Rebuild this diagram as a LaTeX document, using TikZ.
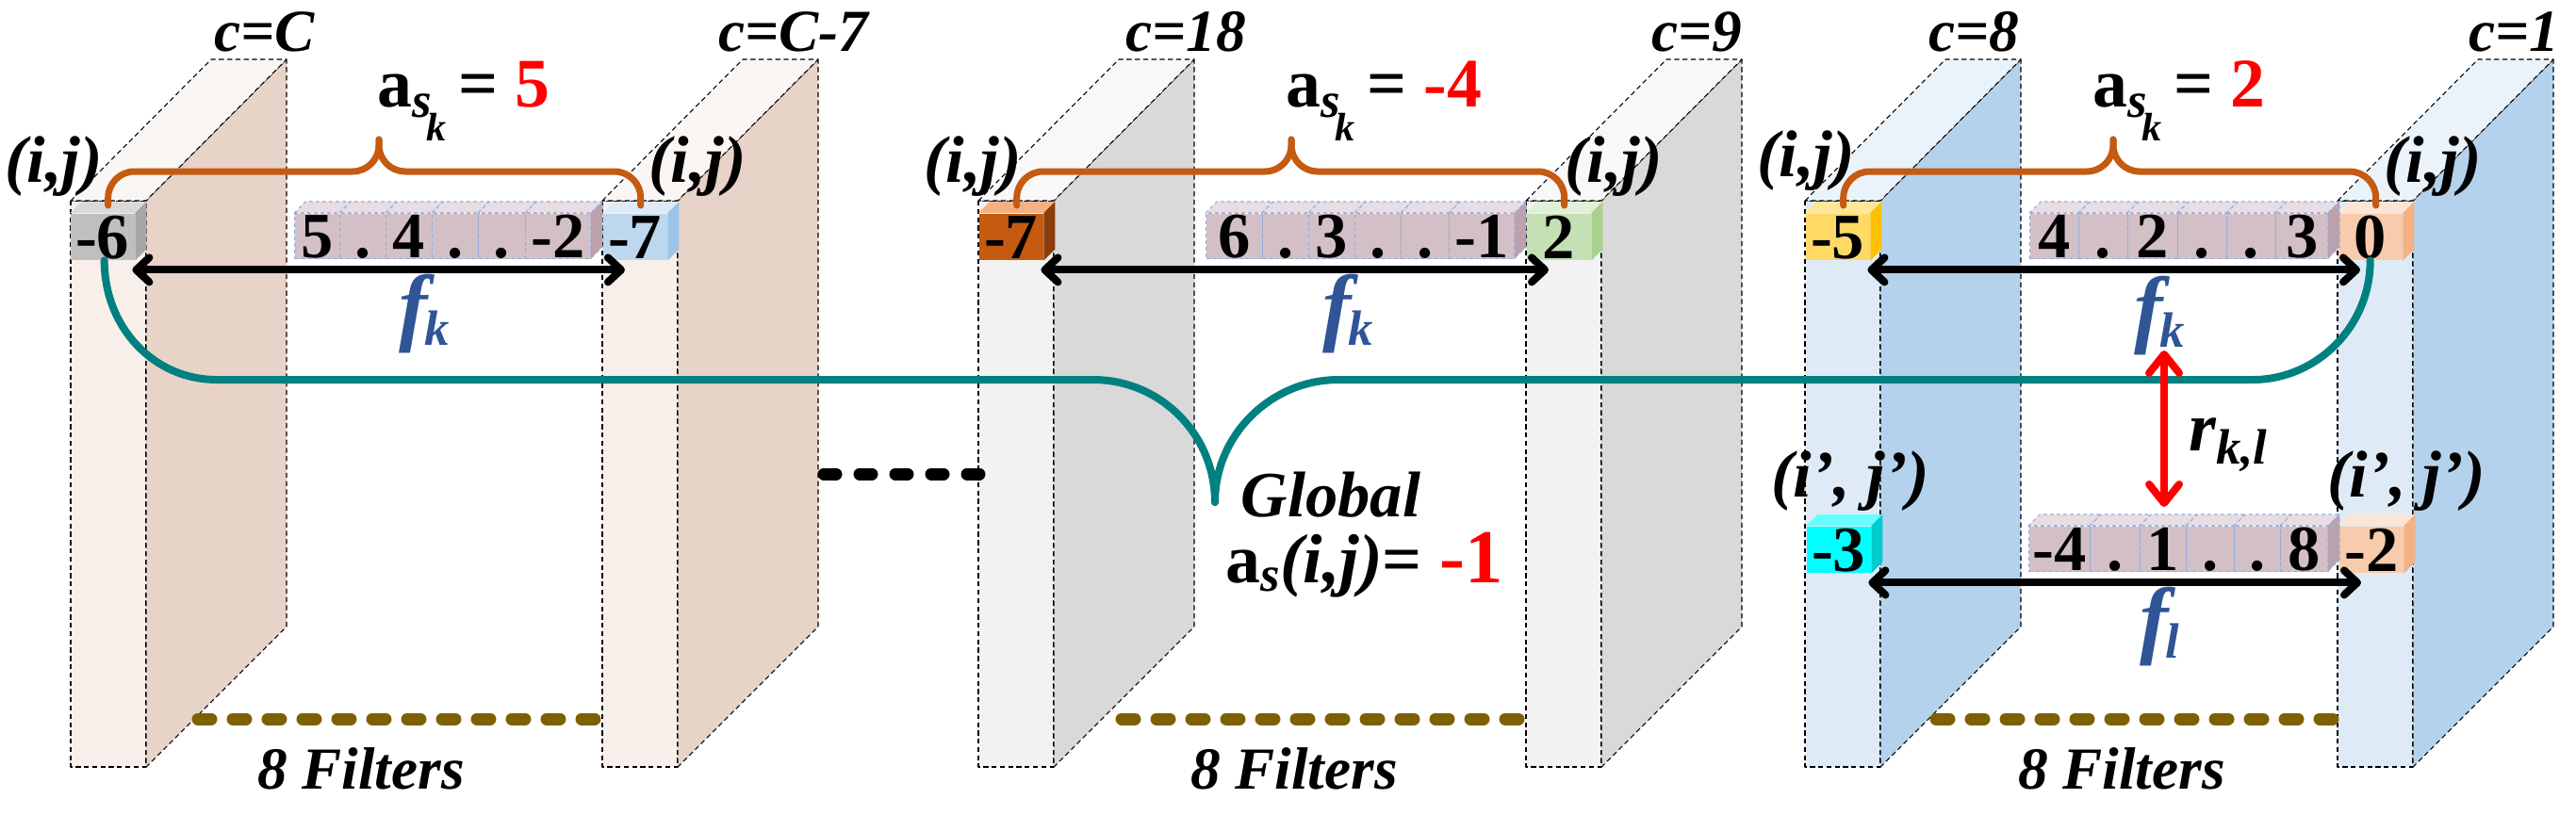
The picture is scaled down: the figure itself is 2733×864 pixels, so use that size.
\documentclass[tikz,border=0pt]{standalone}
\usepackage{fontspec}
\setmainfont{Liberation Serif}
\usetikzlibrary{arrows.meta,calc}

% slab colours (front, side, top)
\definecolor{pinkF}{HTML}{F8EFEB}
\definecolor{pinkS}{HTML}{E8D3C8}
\definecolor{pinkT}{HTML}{FAF6F3}
\definecolor{greyF}{HTML}{F2F2F2}
\definecolor{greyS}{HTML}{D9D9D9}
\definecolor{greyT}{HTML}{F8F8F8}
\definecolor{blueF}{HTML}{DEEBF7}
\definecolor{blueS}{HTML}{B4D2EC}
\definecolor{blueT}{HTML}{EBF3FA}
% cube colours
\definecolor{q1F}{HTML}{BFBFBF}\definecolor{q1S}{HTML}{A6A6A6}\definecolor{q1T}{HTML}{D9D9D9}
\definecolor{q2F}{HTML}{BDD7EE}\definecolor{q2S}{HTML}{9DC3E6}\definecolor{q2T}{HTML}{DEEBF7}
\definecolor{q3F}{HTML}{C55A11}\definecolor{q3S}{HTML}{8A3E0C}\definecolor{q3T}{HTML}{F4B183}
\definecolor{q4F}{HTML}{C5E0B4}\definecolor{q4S}{HTML}{A9D18E}\definecolor{q4T}{HTML}{E2F0D9}
\definecolor{q5F}{HTML}{FFD966}\definecolor{q5S}{HTML}{FFC000}\definecolor{q5T}{HTML}{FFE699}
\definecolor{q6F}{HTML}{F8CBAD}\definecolor{q6S}{HTML}{F4B183}\definecolor{q6T}{HTML}{FBE5D6}
\definecolor{q7F}{HTML}{00FFFF}\definecolor{q7S}{HTML}{00CCCC}\definecolor{q7T}{HTML}{66FFFF}
\definecolor{q8F}{HTML}{F8CBAD}\definecolor{q8S}{HTML}{F4B183}\definecolor{q8T}{HTML}{FBE5D6}
% cells and lines
\definecolor{cellF}{HTML}{D3C0C7}
\definecolor{cellS}{HTML}{BCA2AC}
\definecolor{cellT}{HTML}{E8DDE2}
\definecolor{cellB}{HTML}{8FAADC}
\definecolor{braceC}{HTML}{C55A11}
\definecolor{globC}{HTML}{008080}
\definecolor{fC}{HTML}{2F5597}
\definecolor{dotC}{HTML}{7F6000}

\newcommand{\ask}[1]{a\raisebox{-3.4pt}{\fontsize{15}{15}\selectfont\itshape s\hspace{-1.5pt}\raisebox{-7pt}{\fontsize{12}{12}\selectfont k}}\,= \textcolor{red}{#1}}
\newcommand{\fsub}[1]{f\hspace{-1pt}\raisebox{-3pt}{\fontsize{15}{15}\selectfont #1}}

\begin{document}
\begin{tikzpicture}[x=0.1mm, y=-0.1mm, line join=round,
  slab/.style={draw=black, line width=0.3pt, dash pattern=on 1.5pt off 1pt},
  cube/.style={anchor=north west, inner sep=0pt, minimum width=6.8mm, minimum height=4.9mm,
    text height=13.2pt, text depth=0pt, font=\fontsize{19.5}{19.5}\selectfont\bfseries},
  cell/.style={anchor=north west, inner sep=0pt, minimum height=4.8mm, fill=cellF, draw=cellB,
    line width=0.3pt, dash pattern=on 1pt off 1pt, text height=13.2pt, text depth=0pt,
    font=\fontsize{19.5}{19.5}\selectfont\bfseries},
  cellface/.style={draw=cellB, line width=0.3pt, dash pattern=on 1pt off 1pt},
  lbl/.style={inner sep=0pt, font=\fontsize{20}{20}\selectfont\bfseries\itshape},
  flbl/.style={inner sep=0pt, text=fC, font=\fontsize{26}{26}\selectfont\bfseries\itshape},
  braceL/.style={draw=braceC, line width=0.7mm, rounded corners=2.8mm, line cap=round},
  gline/.style={draw=globC, line width=0.8mm, line cap=round},
  farrow/.style={line width=0.8mm, >={Straight Barb[length=1.4mm,width=2.6mm,round]}, <->},
  rarrow/.style={draw=red, line width=0.8mm, >={Straight Barb[length=2mm,width=3.2mm,round]}, <->},
  bdots/.style={line width=1.3mm, line cap=round, dash pattern=on 1.3mm off 2.5mm},
  fdots/.style={draw=dotC, line width=1.3mm, line cap=round, dash pattern=on 1.4mm off 2.3mm}]

\useasboundingbox (0,0) rectangle (2733,864);

% Slabs (front, side, top) with channel labels
\foreach \sx/\fc/\lx/\lab [count=\n] in {75/pink/281/C, 639/pink/842/C-7, 1038/grey/1258/18,
    1619/grey/1800/9, 1915/blue/2094/8, 2480/blue/2667/1} {
  \filldraw[slab, fill=\fc F] (\sx,213) rectangle (\sx+80,814);
  \filldraw[slab, fill=\fc S] (\sx+80,213) -- (\sx+229,63) -- (\sx+229,665) -- (\sx+80,814) -- cycle;
  \filldraw[slab, fill=\fc T] (\sx,213) -- (\sx+149,63) -- (\sx+229,63) -- (\sx+80,213) -- cycle;
  \node[lbl, font=\fontsize{18}{18}\selectfont\bfseries\itshape, anchor=base] (c\n) at (\lx,54) {c=\lab};
}

% Pixel cubes
\node[cube, fill=q1F] (q1) at (74,226) {-6};
\node[cube, fill=q2F] (q2) at (639,226) {-7};
\node[cube, fill=q3F] (q3) at (1038,226) {-7};
\node[cube, fill=q4F] (q4) at (1619,226) {2};
\node[cube, fill=q5F] (q5) at (1915,226) {-5};
\node[cube, fill=q6F] (q6) at (2480,226) {0};
\node[cube, fill=q7F] (q7) at (1916,558) {-3};
\node[cube, fill=q8F] (q8) at (2481,558) {-2};
\foreach \q in {1,...,8} {
  \fill[q\q T] (q\q.north west) -- ++(12,-12) -- ($(q\q.north east)+(12,-12)$) -- (q\q.north east) -- cycle;
  \fill[q\q S] (q\q.north east) -- ++(12,-12) -- ($(q\q.south east)+(12,-12)$) -- (q\q.south east) -- cycle;
}

% Filter rows
\foreach \xa/\xb/\t [count=\n] in {312/360/5, 360/409/., 409/458/4, 458/507/., 507/557/., 557/627/-2} {
  \node[cell, minimum width={(\xb-\xa)*0.1mm}] (ra\n) at (\xa,226) {\t};
  \filldraw[cellface, fill=cellT] (\xa,226) -- (\xa+12,214) -- (\xb+12,214) -- (\xb,226) -- cycle;
}
\filldraw[cellface, fill=cellS] (627,226) -- (639,214) -- (639,262) -- (627,274) -- cycle;
\foreach \xa/\xb/\t [count=\n] in {1279/1339/6, 1339/1388/., 1388/1437/3, 1437/1486/., 1486/1537/., 1537/1607/-1} {
  \node[cell, minimum width={(\xb-\xa)*0.1mm}] (rb\n) at (\xa,226) {\t};
  \filldraw[cellface, fill=cellT] (\xa,226) -- (\xa+12,214) -- (\xb+12,214) -- (\xb,226) -- cycle;
}
\filldraw[cellface, fill=cellS] (1607,226) -- (1619,214) -- (1619,262) -- (1607,274) -- cycle;
\foreach \xa/\xb/\t [count=\n] in {2153/2205/4, 2205/2257/., 2257/2310/2, 2310/2362/., 2362/2414/., 2414/2470/3} {
  \node[cell, minimum width={(\xb-\xa)*0.1mm}] (rc\n) at (\xa,226) {\t};
  \filldraw[cellface, fill=cellT] (\xa,226) -- (\xa+12,214) -- (\xb+12,214) -- (\xb,226) -- cycle;
}
\filldraw[cellface, fill=cellS] (2470,226) -- (2482,214) -- (2482,262) -- (2470,274) -- cycle;
\foreach \xa/\xb/\t [count=\n] in {2152/2217/-4, 2217/2270/., 2270/2319/1, 2319/2370/., 2370/2419/., 2419/2470/8} {
  \node[cell, minimum width={(\xb-\xa)*0.1mm}] (rd\n) at (\xa,558) {\t};
  \filldraw[cellface, fill=cellT] (\xa,558) -- (\xa+12,546) -- (\xb+12,546) -- (\xb,558) -- cycle;
}
\filldraw[cellface, fill=cellS] (2470,558) -- (2482,546) -- (2482,594) -- (2470,606) -- cycle;

% Global curve
\coordinate (gtip) at (1289,533);
\draw[gline] ($(q1.south)+(2,0)$) .. controls +(0,71) and +(-67,0) .. (230,403) -- (1160,403)
  .. controls +(71,0) and +(0,-72) .. (gtip);
\draw[gline] (q6.south) .. controls +(0,71) and +(67,0) .. (2390,403) -- (1420,403)
  .. controls +(-71,0) and +(0,-72) .. (gtip);
\node[lbl, font=\fontsize{19.5}{19.5}\selectfont\bfseries\itshape, anchor=base west] (glob) at (1316,548) {Global};
\node[lbl, font=\fontsize{21}{21}\selectfont\bfseries, anchor=base west] (gval) at (1300,618)
  {a\raisebox{-2.8pt}{\fontsize{15}{15}\selectfont\itshape s}\textit{(i,j)}= \textcolor{red}{\fontsize{23}{23}\selectfont -1}};

% Braces and a_{s_k}
\foreach \a/\b/\tx/\v [count=\n] in {q1/q2/402/5, q3/q4/1370/-4, q5/q6/2242/2} {
  \coordinate (t\n) at (\tx,148);
  \draw[braceL] ($(\a.north)+(6,-8)$) |- ($(t\n)+(0,34)$) -- (t\n);
  \draw[braceL] ($(\b.north)+(6,-8)$) |- ($(t\n)+(0,34)$) -- (t\n);
}
\node[lbl, font=\fontsize{21}{21}\selectfont\bfseries, anchor=base west] (as1) at (400,113) {\ask{5}};
\node[lbl, font=\fontsize{21}{21}\selectfont\bfseries, anchor=base west] (as2) at (1364,113) {\ask{-4}};
\node[lbl, font=\fontsize{21}{21}\selectfont\bfseries, anchor=base west] (as3) at (2220,113) {\ask{2}};

% (i,j) labels
\foreach \x/\y [count=\n] in {57/177, 740/177, 1032/177, 1712/177, 1916/171, 2581/177}
  \node[lbl] (ij\n) at (\x,\y) {(i,j)};
\node[lbl] (ip1) at (1963,511) {(i', j')};
\node[lbl] (ip2) at (2553,511) {(i', j')};

% f_k / f_l arrows
\draw[farrow] ($(q1.south east)+(-3,10)$) -- ($(q2.south west)+(24,10)$);
\draw[farrow] ($(q3.south east)+(-3,10)$) -- ($(q4.south west)+(24,10)$);
\draw[farrow] ($(q5.south east)+(-3,10)$) -- ($(q6.south west)+(24,10)$);
\draw[farrow] ($(q7.south east)+(-3,10)$) -- ($(q8.south west)+(24,10)$);
\node[flbl] (fk1) at (450,333) {\fsub{k}};
\node[flbl] (fk2) at (1430,333) {\fsub{k}};
\node[flbl] (fk3) at (2291,335) {\fsub{k}};
\node[flbl] (fl) at (2291,665) {\fsub{l}};

% r_{k,l}
\draw[rarrow] ($(rd3.north)+(1,-186)$) -- ($(rd3.north)+(1,-20)$);
\node[lbl, font=\fontsize{21}{21}\selectfont\bfseries\itshape, anchor=base west] (rkl) at (2322,478)
  {r\raisebox{-4pt}{\fontsize{15}{15}\selectfont k,l}};

% dots
\draw[bdots] (874,503) -- (1039,503);
\foreach \xa [count=\n] in {210, 1190, 2054} {
  \draw[fdots] (\xa,763) -- (\xa+421,763);
}
\foreach \x [count=\n] in {383, 1373, 2251}
  \node[lbl, font=\fontsize{18}{18}\selectfont\bfseries\itshape] (nf\n) at (\x,816) {8 Filters};

\end{tikzpicture}
\end{document}
